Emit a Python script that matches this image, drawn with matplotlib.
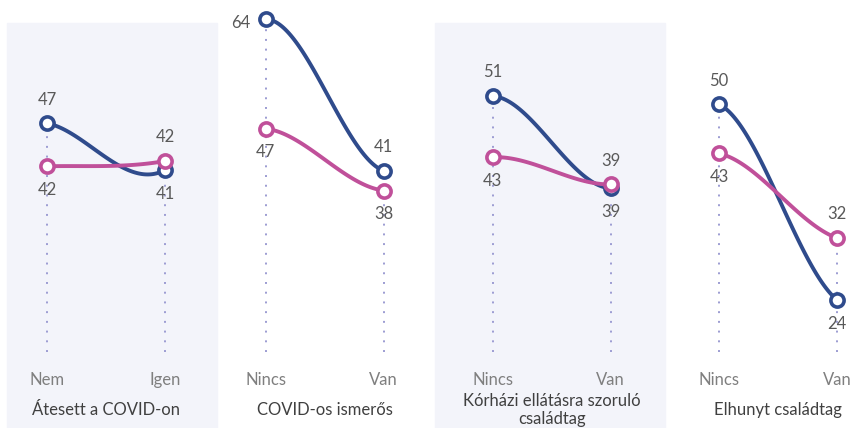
import numpy as np
import matplotlib.pyplot as plt
from matplotlib.patches import Rectangle

plt.rcParams['font.family'] = ['Lato', 'DejaVu Sans']

titles = ["Átesett a COVID-on", "COVID-os ismerős",
          "Kórházi ellátásra szoruló\ncsaládtag", "Elhunyt családtag"]
categories = [["Nem", "Igen"], ["Nincs", "Van"], ["Nincs", "Van"], ["Nincs", "Van"]]
blue_vals = [[47.4, 41.2], [64.0, 41.0], [51.0, 38.8], [49.9, 24.0]]
pink_vals = [[41.7, 42.4], [47.4, 38.0], [42.9, 39.3], [43.4, 32.2]]

BLUE = "#2F4B8C"
PINK = "#C0509A"
DOT = "#9C9CD2"
SHADE = "#F3F4FA"

W, H = 850, 428
fig = plt.figure(figsize=(W / 100, H / 100), dpi=100)


def fx(px):
    return px / W


def fy(py):
    return 1 - py / H


# shaded backgrounds behind panels 1 and 3
for x0, x1 in [(7, 217), (435, 665)]:
    fig.patches.append(Rectangle((fx(x0), 0), fx(x1 - x0), fy(23),
                                 transform=fig.transFigure, color=SHADE, zorder=-5))

left_px = [47, 265.7, 492.7, 719]
step = 118
ylims = [(17.1, 62.4), (13.5, 65.4), (17.1, 62.4), (17.1, 62.4)]


def smooth(series, k):
    # excel-like smoothed segment: tangents use neighbouring panels' points
    p0, p1 = series[k]
    prev = series[k - 1][1] if k > 0 else p0
    nxt = series[k + 1][0] if k < len(series) - 1 else p1
    c1 = p0 + (p1 - prev) / 6
    c2 = p1 - (nxt - p0) / 6
    t = np.linspace(0, 1, 80)
    y = (1 - t) ** 3 * p0 + 3 * (1 - t) ** 2 * t * c1 + 3 * (1 - t) * t ** 2 * c2 + t ** 3 * p1
    return t, y


for k in range(4):
    ax = fig.add_axes([fx(left_px[k] - 0.2 * step), fy(352), 1.4 * step / W, 342 / H])
    ax.set_xlim(-0.2, 1.2)
    ax.set_ylim(*ylims[k])
    ax.set_facecolor("none")
    ax.axis("off")

    b = blue_vals[k]
    p = pink_vals[k]
    for i in range(2):
        ax.plot([i, i], [ylims[k][0], max(b[i], p[i])], color=DOT, lw=1.4,
                dashes=(1, 4), zorder=1)

    for vals, col in [(blue_vals, BLUE), (pink_vals, PINK)]:
        t, y = smooth(vals, k)
        ax.plot(t, y, color=col, lw=2.8, zorder=2, solid_capstyle="round")
        ax.plot([0, 1], vals[k], ls="none", marker="o", ms=9.5, mfc="white",
                mec=col, mew=2.6, zorder=3)

    # value labels: the higher point gets its label above, the lower below
    for i in range(2):
        pairs = sorted([b[i], p[i]])
        for v, sign in [(pairs[1], 1), (pairs[0], -1)]:
            disp = ax.transData.transform((i, v))
            if sign > 0 and H - disp[1] < 35:
                ax.annotate(f"{v:.0f}", (i, v), xytext=(-11, -3), textcoords="offset points",
                            ha="right", va="center", fontsize=12, color="#595959")
            else:
                ax.annotate(f"{v:.0f}", (i, v), xytext=(0, sign * 17), textcoords="offset points",
                            ha="center", va="center", fontsize=12, color="#595959")

    for i, lab in enumerate(categories[k]):
        ax.annotate(lab, (i, H - 380), xycoords=("data", "figure pixels"),
                    ha="center", va="center", fontsize=12, color="#7F7F7F")
    ax.annotate(titles[k], (0.5, H - 410), xycoords=("data", "figure pixels"),
                ha="center", va="center", fontsize=12, color="#404040", linespacing=1.15)

fig.savefig("out.png", dpi=100)
